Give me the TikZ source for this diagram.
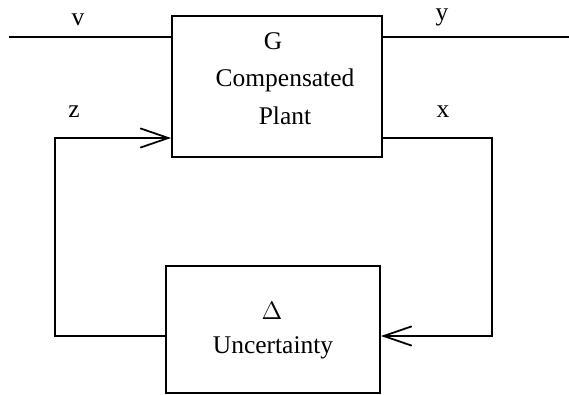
\documentclass[tikz,border=0pt]{standalone}
\usepackage{fontspec}
\setmainfont{Liberation Serif}
\usetikzlibrary{arrows.meta}

\tikzset{
    blk/.style={draw, line width=1.1pt, inner sep=0pt},
    lbl/.style={font=\fontsize{14.5}{17}\selectfont, inner sep=0pt},
    wire/.style={line width=1.1pt},
    barb/.style={-{Straight Barb[length=16pt, width=11pt, line width=1pt]}}
}

\begin{document}
\begin{tikzpicture}[x=0.02cm, y=-0.02cm]
            \useasboundingbox (0,0) rectangle (569,395);

            \node[blk, minimum width=210*0.02cm, minimum height=141*0.02cm] (plant) at (277,86.5) {};
            \node[lbl] (gname) at (273,41) {G};
            \node[lbl] (gtxt1) at (285,80) {Compensated};
            \node[lbl] (gtxt2) at (285,116) {Plant};

            \node[blk, minimum width=214*0.02cm, minimum height=127*0.02cm] (unc) at (273,329.5) {};
            \node[lbl] (dname) at (272,311) {$\Delta$};
            \node[lbl] (dtxt) at (273,348) {Uncertainty};

            \node[lbl] (vlbl) at (78,20) {v};
            \node[lbl] (ylbl) at (442,17) {y};
            \node[lbl] (zlbl) at (74,112) {z};
            \node[lbl] (xlbl) at (443,112) {x};

            \coordinate (vin) at (9,37);
            \coordinate (yout) at (569,37);
            \coordinate (zcorner1) at (55,336);
            \coordinate (zcorner2) at (55,138);
            \coordinate (xcorner1) at (492,138);
            \coordinate (xcorner2) at (492,336);

            \draw[wire] (vin) -- (vin -| plant.west);
            \draw[wire] (yout -| plant.east) -- (yout);

            \draw[wire, barb] (zcorner1 -| unc.west) -- (zcorner1) -- (zcorner2) -- (zcorner2 -| plant.west);
            \draw[wire, barb] (xcorner1 -| plant.east) -- (xcorner1) -- (xcorner2) -- (xcorner2 -| unc.east);
        \end{tikzpicture}
\end{document}
